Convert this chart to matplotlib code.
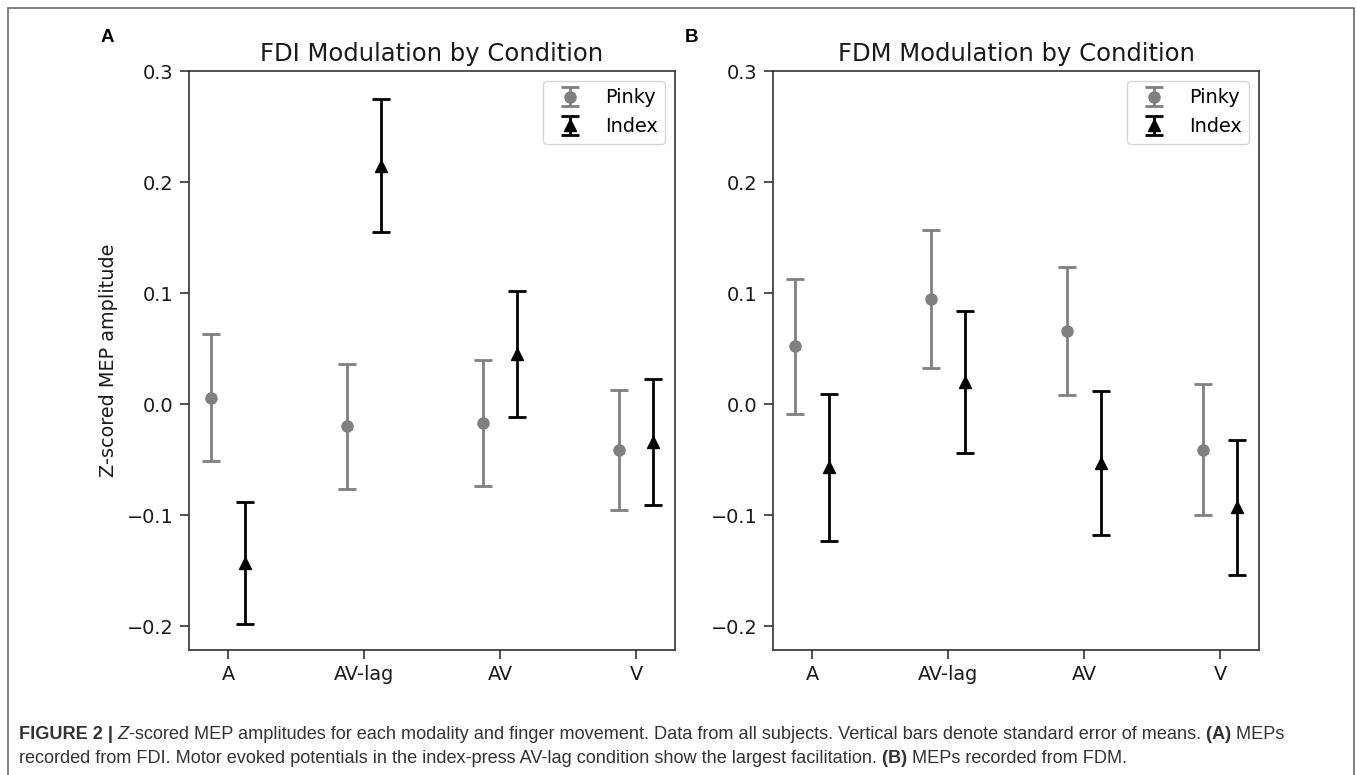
import matplotlib
matplotlib.use("Agg")
import matplotlib.pyplot as plt
from matplotlib import font_manager
from matplotlib.patches import Rectangle
import numpy as np

# ---------------- data ----------------
conditions = ["A", "AV-lag", "AV", "V"]
series_names = ["Pinky", "Index"]

fdi_pinky_mean = [0.006, -0.020, -0.017, -0.041]
fdi_pinky_sem = [0.057, 0.056, 0.057, 0.054]
fdi_index_mean = [-0.143, 0.215, 0.045, -0.034]
fdi_index_sem = [0.055, 0.060, 0.057, 0.057]

fdm_pinky_mean = [0.052, 0.095, 0.066, -0.041]
fdm_pinky_sem = [0.061, 0.062, 0.058, 0.059]
fdm_index_mean = [-0.057, 0.020, -0.053, -0.093]
fdm_index_sem = [0.066, 0.064, 0.065, 0.061]

yticks = [-0.2, -0.1, 0.0, 0.1, 0.2, 0.3]
titles = ["FDI Modulation by Condition", "FDM Modulation by Condition"]
panel_letters = ["A", "B"]
ylabel = "Z-scored MEP amplitude"

# ---------------- figure ----------------
W, H = 1357, 775
fig = plt.figure(figsize=(W / 100, H / 100), dpi=100)
plt.rcParams["font.family"] = ["DejaVu Sans"]

ax_w = 486 / W
ax_h = (650 - 71) / H
ax_b = (H - 650) / H
axA = fig.add_axes([189 / W, ax_b, ax_w, ax_h])
axB = fig.add_axes([773 / W, ax_b, ax_w, ax_h], sharey=axA)

x = np.arange(len(conditions))
off = 0.125
tick_fs = 13.9
ms = 8.0
lw = 2.0
cap = 6.6

panels = [
    (axA, fdi_pinky_mean, fdi_pinky_sem, fdi_index_mean, fdi_index_sem),
    (axB, fdm_pinky_mean, fdm_pinky_sem, fdm_index_mean, fdm_index_sem),
]
for i, (ax, pm, ps, im, isd) in enumerate(panels):
    ax.errorbar(x - off, pm, yerr=ps, fmt="o", color="#808080", ms=ms,
                elinewidth=lw, capsize=cap, capthick=lw, label=series_names[0])
    ax.errorbar(x + off, im, yerr=isd, fmt="^", color="black", ms=ms,
                elinewidth=lw, capsize=cap, capthick=lw, label=series_names[1])
    ax.set_xticks(x)
    ax.set_xticklabels(conditions)
    ax.set_yticks(yticks)
    ax.tick_params(labelsize=tick_fs, length=6.5, width=1.1, colors="#222222",
                   labelcolor="#1a1a1a", pad=4.5)
    for sp in ax.spines.values():
        sp.set_linewidth(1.2)
        sp.set_color("#333333")
    ax.set_title(titles[i], fontsize=17.5, pad=7, color="#1a1a1a")
    ax.legend(loc="upper right", fontsize=13.9, borderaxespad=0.5)
    ax.tick_params(axis="y", labelleft=True)
    fig.text((107 + 584 * i) / W, 1 - 37 / H, panel_letters[i],
             family=["Liberation Sans", "DejaVu Sans"], fontweight="bold",
             fontsize=13.5, ha="center", va="center", color="black")

axA.set_xlim(-0.2875, 3.2875)
axA.set_ylim(-0.2215, 0.3002)
axB.set_xlim(-0.2875, 3.2875)
axA.set_ylabel(ylabel, fontsize=13.9, color="#1a1a1a")
axA.yaxis.set_label_coords(-0.146, 0.5)

# ---------------- outer frame ----------------
frame = Rectangle((8 / W, -0.05), (1354 - 8) / W, 1 - 8 / H + 0.05,
                  transform=fig.transFigure, fill=False, edgecolor="#6a6a6a",
                  linewidth=1.2)
fig.add_artist(frame)

# ---------------- caption ----------------
names = {f.name for f in font_manager.fontManager.ttflist}
if "Liberation Sans Narrow" in names:
    cap_family = ["Liberation Sans Narrow", "DejaVu Sans"]
else:
    cap_family = ["Liberation Sans", "DejaVu Sans"]

bg = fig.add_axes([0, 0, 1, 1], zorder=-1)
bg.set_axis_off()
bg.set_xlim(0, 1)
bg.set_ylim(0, 1)

line1 = [
    ("FIGURE 2 |", "bold", "normal"),
    (" Z", "normal", "italic"),
    ("-scored MEP amplitudes for each modality and finger movement. Data from all subjects. "
     "Vertical bars denote standard error of means.", "normal", "normal"),
    (" (A)", "bold", "normal"),
    (" MEPs", "normal", "normal"),
]
line2 = [
    ("recorded from FDI. Motor evoked potentials in the index-press AV-lag condition "
     "show the largest facilitation.", "normal", "normal"),
    (" (B)", "bold", "normal"),
    (" MEPs recorded from FDM.", "normal", "normal"),
]

cap_color = "#333333"


def place_line(pieces, x0, ybase, fs):
    out = []
    prev = None
    for s, wgt, sty in pieces:
        if prev is None:
            t = bg.text(x0, ybase, s, ha="left", va="baseline", fontsize=fs,
                        family=cap_family, fontweight=wgt, fontstyle=sty,
                        color=cap_color, transform=fig.transFigure)
        else:
            t = bg.annotate(s, xy=(1, 0), xycoords=prev, ha="left", va="bottom",
                            fontsize=fs, family=cap_family, fontweight=wgt,
                            fontstyle=sty, color=cap_color, annotation_clip=False)
        out.append(t)
        prev = t
    return out


fs0 = 12.0
l1 = place_line(line1, 19 / W, 1 - 739 / H, fs0)
l2 = place_line(line2, 19 / W, 1 - 763 / H, fs0)
fig.canvas.draw()
r = fig.canvas.get_renderer()
x_start = l1[0].get_window_extent(r).x0
x_end = l1[-1].get_window_extent(r).x1
width = x_end - x_start
fs = fs0 * (1292 - 19) / width
fs = min(fs, 13.5)
for t in l1 + l2:
    t.set_fontsize(fs)

fig.savefig("out.png", dpi=100)
